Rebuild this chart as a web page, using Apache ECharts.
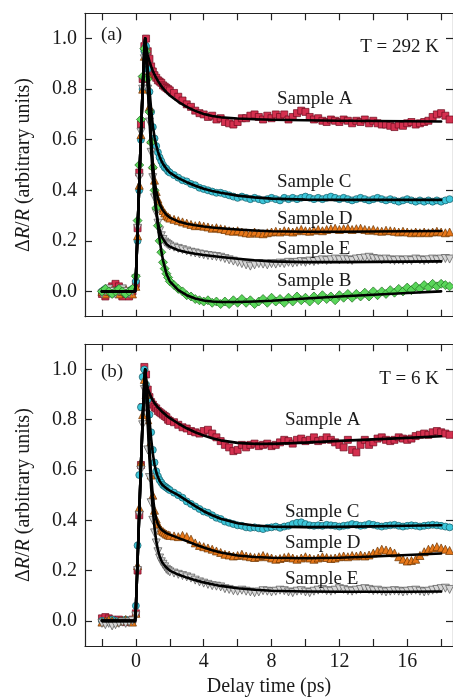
<!DOCTYPE html>
<html>
<head>
<meta charset="utf-8">
<script src="https://cdn.jsdelivr.net/npm/echarts@6.0.0/dist/echarts.min.js"></script>
<style>
html,body{margin:0;padding:0;background:#fff;}
#chart{width:453px;height:698px;}
</style>
</head>
<body>
<div id="chart"></div>
<script>
// ---------- DATA ----------
const dataTimes = [-2.0,-1.8,-1.6,-1.4,-1.2,-1.0,-0.8,-0.6,-0.4,-0.2,
  0.0,0.1,0.2,0.3,0.4,0.5,0.6,0.7,0.8,0.9,1.0,1.1,1.2,1.3,1.4,1.5,1.6,1.7,1.8,1.9,2.0,
  2.25,2.5,2.75,3.0,3.25,3.5,3.75,4.0,4.25,4.5,4.75,
  5.0,5.25,5.5,5.75,6.0,6.25,6.5,6.75,7.0,7.25,7.5,
  7.75,8.0,8.25,8.5,8.75,9.0,9.25,9.5,9.75,10.0,10.25,
  10.5,10.75,11.0,11.25,11.5,11.75,12.0,12.25,12.5,12.75,13.0,
  13.25,13.5,13.75,14.0,14.25,14.5,14.75,15.0,15.25,15.5,15.75,
  16.0,16.25,16.5,16.75,17.0,17.25,17.5,17.75,18.0,18.25,18.5];

// Panel (a), T = 292 K
const sampleA292 = [-0.01,-0.02,0.0,0.02,0.03,0.02,-0.02,-0.01,-0.02,0.0,
  0.03,0.25,0.47,0.66,0.84,0.97,1.0,0.95,0.92,0.89,0.87,0.855,0.845,0.835,0.83,0.825,0.815,0.81,0.805,0.8,0.795,
  0.785,0.77,0.755,0.74,0.73,0.715,0.705,0.7,0.69,0.695,0.68,
  0.685,0.67,0.665,0.66,0.67,0.685,0.685,0.695,0.7,0.69,0.68,
  0.695,0.685,0.7,0.69,0.7,0.68,0.69,0.705,0.715,0.71,0.69,
  0.68,0.685,0.675,0.67,0.68,0.675,0.67,0.68,0.675,0.665,0.675,
  0.67,0.68,0.665,0.675,0.665,0.66,0.66,0.655,0.65,0.66,0.655,
  0.665,0.67,0.66,0.665,0.67,0.675,0.69,0.7,0.705,0.695,0.68];
const sampleC292 = [0.0,0.01,0.0,-0.01,0.0,0.01,0.0,-0.01,0.0,0.01,
  0.04,0.2,0.4,0.6,0.8,0.95,0.97,0.88,0.79,0.71,0.65,0.605,0.575,0.55,0.53,0.515,0.5,0.49,0.485,0.475,0.47,
  0.46,0.45,0.44,0.435,0.425,0.42,0.41,0.405,0.4,0.395,0.39,
  0.39,0.385,0.38,0.375,0.37,0.375,0.37,0.365,0.37,0.365,0.36,
  0.365,0.37,0.365,0.36,0.37,0.365,0.37,0.365,0.37,0.375,0.37,
  0.365,0.37,0.365,0.37,0.375,0.37,0.365,0.37,0.365,0.36,0.365,
  0.37,0.365,0.36,0.365,0.37,0.365,0.36,0.365,0.36,0.355,0.36,
  0.365,0.36,0.355,0.36,0.355,0.36,0.355,0.36,0.355,0.36,0.365];
const sampleD292 = [0.0,-0.01,0.0,0.01,0.0,-0.01,0.0,0.01,0.0,-0.01,
  0.02,0.22,0.42,0.62,0.8,0.93,0.96,0.86,0.73,0.6,0.5,0.44,0.395,0.365,0.345,0.33,0.32,0.31,0.3,0.295,0.29,
  0.285,0.28,0.275,0.27,0.265,0.26,0.262,0.258,0.255,0.25,0.252,
  0.248,0.245,0.24,0.238,0.24,0.235,0.232,0.23,0.235,0.23,0.228,
  0.232,0.235,0.238,0.235,0.24,0.238,0.235,0.24,0.245,0.24,0.238,
  0.242,0.245,0.24,0.245,0.248,0.25,0.245,0.248,0.25,0.245,0.248,
  0.25,0.245,0.242,0.245,0.24,0.238,0.242,0.24,0.238,0.235,0.238,
  0.235,0.232,0.235,0.232,0.235,0.232,0.235,0.238,0.235,0.232,0.235];
const sampleE292 = [-0.01,0.0,0.01,0.0,-0.01,0.0,0.01,0.0,-0.01,0.0,
  0.05,0.25,0.45,0.63,0.8,0.92,0.93,0.8,0.67,0.55,0.45,0.37,0.31,0.27,0.24,0.22,0.205,0.195,0.19,0.185,0.18,
  0.175,0.17,0.165,0.16,0.155,0.152,0.148,0.145,0.142,0.14,0.138,
  0.135,0.13,0.125,0.12,0.115,0.11,0.105,0.1,0.105,0.11,0.108,
  0.105,0.11,0.108,0.112,0.11,0.115,0.112,0.115,0.118,0.115,0.12,
  0.118,0.122,0.125,0.122,0.125,0.128,0.125,0.128,0.125,0.122,0.128,
  0.13,0.132,0.135,0.13,0.128,0.125,0.128,0.125,0.122,0.125,0.122,
  0.125,0.122,0.128,0.125,0.122,0.125,0.128,0.125,0.128,0.13,0.128];
const sampleB292 = [0.0,0.01,0.0,-0.01,0.0,0.01,0.0,-0.01,0.0,0.01,
  0.06,0.28,0.5,0.68,0.85,0.96,0.95,0.84,0.71,0.59,0.49,0.4,0.33,0.26,0.2,0.155,0.115,0.09,0.07,0.055,0.04,
  0.025,0.01,0.0,-0.015,-0.02,-0.03,-0.035,-0.04,-0.035,-0.045,-0.04,
  -0.05,-0.04,-0.05,-0.035,-0.045,-0.03,-0.045,-0.035,-0.05,-0.04,-0.03,
  -0.045,-0.025,-0.04,-0.03,-0.045,-0.025,-0.04,-0.02,-0.035,-0.025,-0.04,
  -0.02,-0.035,-0.015,-0.03,-0.02,-0.035,-0.015,-0.025,-0.01,-0.025,-0.01,
  -0.02,-0.005,-0.02,0.0,-0.015,0.0,-0.01,0.005,-0.005,0.01,0.0,
  0.015,0.005,0.02,0.01,0.025,0.015,0.03,0.02,0.03,0.025,0.02];

// Panel (b), T = 6 K
const sampleA6 = [0.01,0.015,0.01,0.005,0.0,0.005,0.0,-0.005,0.0,0.005,
  0.03,0.2,0.42,0.62,0.85,1.01,0.98,0.92,0.89,0.87,0.86,0.85,0.845,0.835,0.83,0.825,0.82,0.815,0.81,0.8,0.795,
  0.79,0.78,0.77,0.765,0.755,0.75,0.745,0.755,0.76,0.745,0.73,
  0.715,0.7,0.69,0.675,0.68,0.7,0.69,0.7,0.705,0.695,0.7,
  0.705,0.695,0.7,0.71,0.72,0.715,0.705,0.72,0.725,0.715,0.72,
  0.73,0.715,0.72,0.73,0.72,0.71,0.7,0.69,0.72,0.68,0.67,
  0.7,0.72,0.7,0.71,0.725,0.73,0.72,0.715,0.72,0.73,0.725,
  0.72,0.725,0.735,0.74,0.745,0.74,0.75,0.755,0.75,0.745,0.74];
const sampleC6 = [0.0,-0.005,0.0,0.005,0.0,-0.005,0.0,0.005,0.0,0.0,
  0.06,0.3,0.58,0.85,0.97,1.0,0.94,0.88,0.82,0.75,0.68,0.63,0.595,0.575,0.56,0.55,0.54,0.535,0.53,0.525,0.52,
  0.51,0.5,0.49,0.475,0.465,0.455,0.445,0.435,0.43,0.42,0.41,
  0.405,0.395,0.39,0.385,0.38,0.378,0.372,0.37,0.372,0.368,0.365,
  0.37,0.372,0.375,0.37,0.375,0.378,0.385,0.39,0.392,0.385,0.38,
  0.378,0.38,0.378,0.382,0.38,0.378,0.375,0.378,0.38,0.385,0.382,
  0.378,0.38,0.385,0.382,0.378,0.375,0.378,0.38,0.382,0.378,0.375,
  0.378,0.38,0.378,0.375,0.378,0.38,0.382,0.38,0.378,0.375,0.372];
const sampleD6 = [-0.005,0.0,0.005,0.0,-0.005,0.0,0.0,0.005,0.0,-0.005,
  0.03,0.22,0.45,0.63,0.82,0.96,0.9,0.8,0.7,0.58,0.5,0.44,0.405,0.385,0.37,0.36,0.355,0.35,0.345,0.342,0.34,
  0.338,0.335,0.34,0.335,0.325,0.31,0.3,0.295,0.29,0.285,0.278,
  0.272,0.265,0.262,0.258,0.26,0.265,0.258,0.255,0.252,0.255,0.26,
  0.255,0.25,0.245,0.248,0.252,0.255,0.25,0.245,0.25,0.255,0.25,
  0.245,0.25,0.255,0.252,0.248,0.25,0.255,0.258,0.255,0.26,0.258,
  0.262,0.258,0.262,0.27,0.278,0.285,0.282,0.278,0.27,0.255,0.245,
  0.238,0.24,0.245,0.26,0.275,0.285,0.29,0.295,0.29,0.285,0.28];
const sampleE6 = [-0.01,-0.015,-0.01,-0.02,-0.015,-0.01,-0.005,-0.01,-0.005,0.0,
  0.02,0.2,0.42,0.6,0.78,0.92,0.85,0.68,0.57,0.47,0.4,0.35,0.31,0.275,0.25,0.235,0.225,0.215,0.205,0.2,0.195,
  0.19,0.185,0.18,0.175,0.17,0.162,0.155,0.15,0.145,0.14,0.138,
  0.135,0.128,0.125,0.12,0.118,0.122,0.118,0.115,0.112,0.115,0.12,
  0.118,0.115,0.118,0.122,0.12,0.115,0.112,0.118,0.12,0.115,0.112,
  0.118,0.122,0.125,0.12,0.118,0.122,0.128,0.125,0.12,0.118,0.122,
  0.125,0.128,0.125,0.12,0.122,0.118,0.115,0.118,0.12,0.118,0.115,
  0.118,0.12,0.122,0.118,0.115,0.118,0.122,0.125,0.128,0.13,0.125];

// Fit curves
const fitTimes = [-2.0,-1.0,-0.05,0.0,0.1,0.2,0.3,0.4,0.5,0.55,
  0.6,0.7,0.8,0.9,1.0,1.1,1.2,1.3,1.4,1.5,1.6,1.8,2.0,
  2.5,3.0,3.5,4.0,4.5,5.0,6.0,7.0,8.0,10.0,12.0,14.0,16.0,18.0];
const fitA292 = [0,0,0,0.05,0.24,0.43,0.62,0.8,0.95,1.0,
  0.97,0.935,0.91,0.89,0.872,0.857,0.845,0.833,0.822,0.812,0.803,0.788,0.775,
  0.75,0.73,0.714,0.702,0.694,0.689,0.684,0.681,0.679,0.677,0.675,0.674,0.673,0.672];
const fitC292 = [0,0,0,0.05,0.24,0.43,0.62,0.8,0.95,1.0,
  0.96,0.88,0.8,0.72,0.655,0.61,0.578,0.553,0.533,0.517,0.504,0.485,0.47,
  0.448,0.432,0.418,0.406,0.397,0.39,0.379,0.372,0.367,0.363,0.362,0.362,0.362,0.362];
const fitD292 = [0,0,0,0.05,0.24,0.43,0.62,0.8,0.95,1.0,
  0.95,0.84,0.72,0.6,0.505,0.44,0.398,0.368,0.347,0.332,0.32,0.303,0.292,
  0.277,0.268,0.262,0.257,0.253,0.25,0.245,0.241,0.238,0.236,0.236,0.237,0.238,0.239];
const fitE292 = [0,0,0,0.05,0.24,0.43,0.62,0.8,0.95,1.0,
  0.94,0.81,0.68,0.56,0.455,0.375,0.315,0.272,0.243,0.222,0.207,0.188,0.177,
  0.163,0.155,0.149,0.144,0.14,0.136,0.129,0.123,0.119,0.116,0.116,0.117,0.118,0.119];
const fitB292 = [0,0,0,0.05,0.24,0.43,0.62,0.8,0.95,1.0,
  0.95,0.84,0.715,0.595,0.49,0.4,0.325,0.26,0.205,0.16,0.123,0.07,0.04,
  0.005,-0.015,-0.028,-0.036,-0.04,-0.042,-0.042,-0.04,-0.037,-0.028,-0.02,-0.013,-0.006,0.0];
const fitA6 = [0,0,0,0.05,0.24,0.43,0.62,0.8,0.95,1.0,
  0.96,0.925,0.905,0.89,0.877,0.866,0.857,0.849,0.842,0.835,0.829,0.817,0.806,
  0.785,0.766,0.75,0.737,0.726,0.718,0.708,0.704,0.704,0.709,0.716,0.722,0.728,0.734];
const fitC6 = [0,0,0,0.05,0.24,0.43,0.62,0.8,0.95,1.0,
  0.96,0.88,0.8,0.725,0.665,0.622,0.592,0.572,0.557,0.546,0.538,0.527,0.518,
  0.5,0.478,0.456,0.436,0.42,0.406,0.388,0.379,0.375,0.373,0.374,0.376,0.378,0.38];
const fitD6 = [0,0,0,0.05,0.24,0.43,0.62,0.8,0.95,1.0,
  0.93,0.81,0.69,0.58,0.495,0.44,0.405,0.385,0.372,0.363,0.357,0.349,0.343,
  0.33,0.317,0.304,0.292,0.281,0.272,0.26,0.254,0.251,0.249,0.251,0.256,0.262,0.268];
const fitE6 = [0,0,0,0.05,0.24,0.43,0.62,0.8,0.95,1.0,
  0.92,0.78,0.645,0.53,0.44,0.37,0.318,0.282,0.257,0.24,0.228,0.212,0.2,
  0.184,0.172,0.162,0.153,0.146,0.139,0.13,0.124,0.12,0.117,0.116,0.116,0.116,0.117];

const xTickValues = [-2,0,2,4,6,8,10,12,14,16,18];
const xLabelValues = [0,4,8,12,16];
const yTickValues = [0,0.2,0.4,0.6,0.8,1.0];

// ---------- STYLE ----------
const SERIF = '"Liberation Serif","Times New Roman",serif';
const INK = '#1a1a1a';
const styles = {
  A: {symbol:'rect', size:7, color:'#d4304f', border:'#6e0c1e'},
  C: {symbol:'circle', size:7, color:'#3cc6da', border:'#155a66'},
  D: {symbol:'triangle', size:8, color:'#e8781a', border:'#6a3300'},
  E: {symbol:'triangle', size:8, rotate:180, color:'#d6d6d6', border:'#555555'},
  B: {symbol:'diamond', size:9, color:'#5ad65a', border:'#1e6a1e'}
};

function pairs(ts, ys){ return ts.map((t,i)=>[t, ys[i]]); }
function scat(key, ys, xi, yi){
  const s = styles[key];
  return {type:'scatter', xAxisIndex:xi, yAxisIndex:yi, data:pairs(dataTimes, ys),
    symbol:s.symbol, symbolSize:s.size, symbolRotate:s.rotate||0, z:2, silent:true,
    itemStyle:{color:s.color, borderColor:s.border, borderWidth:0.7, opacity:1}};
}
function fit(ys, xi, yi){
  return {type:'line', xAxisIndex:xi, yAxisIndex:yi, data:pairs(fitTimes, ys),
    showSymbol:false, symbol:'none', z:5, silent:true,
    lineStyle:{color:'#000', width:2.6, cap:'round', join:'round'}};
}

const axisLineStyle = {show:true, onZero:false, lineStyle:{color:'#222', width:1.2}};
const tickStyle = {inside:true, length:7, lineStyle:{color:'#222', width:1.2}};

function xBottom(grid, withLabels){
  return {type:'value', gridIndex:grid, position:'bottom', min:-3, max:18.7,
    axisLine:axisLineStyle, splitLine:{show:false},
    axisTick:Object.assign({customValues:xTickValues}, tickStyle),
    axisLabel:{show:withLabels, customValues:xLabelValues, margin:6,
      fontFamily:SERIF, fontSize:20, color:INK},
    name: withLabels ? 'Delay time (ps)' : '', nameLocation:'middle', nameGap:31,
    nameTextStyle:{fontFamily:SERIF, fontSize:20, color:INK}};
}
function xTop(grid){
  return {type:'value', gridIndex:grid, position:'top', min:-3, max:18.7,
    axisLine:axisLineStyle, splitLine:{show:false},
    axisTick:Object.assign({customValues:xTickValues}, tickStyle),
    axisLabel:{show:false}};
}
function yLeft(grid){
  return {type:'value', gridIndex:grid, position:'left', min:-0.1, max:1.1,
    axisLine:axisLineStyle, splitLine:{show:false},
    axisTick:Object.assign({customValues:yTickValues}, tickStyle),
    axisLabel:{customValues:yTickValues, margin:8, fontFamily:SERIF, fontSize:20, color:INK,
      formatter:v=>Number(v).toFixed(1)},
    name:'{n|Δ}{i|R}{n|/}{i|R}{n| (arbitrary units)}', nameLocation:'middle', nameGap:51,
    nameTextStyle:{color:INK, rich:{
      n:{fontFamily:SERIF, fontSize:20, color:INK},
      i:{fontFamily:SERIF, fontSize:20, fontStyle:'italic', color:INK}}}};
}
function yRight(grid){
  return {type:'value', gridIndex:grid, position:'right', min:-0.1, max:1.1,
    axisLine:axisLineStyle, splitLine:{show:false},
    axisTick:Object.assign({customValues:yTickValues}, tickStyle),
    axisLabel:{show:false}};
}

function txt(text, x, y, align){
  return {type:'text', x:x, y:y, z:100, silent:true,
    style:{text:text, fontFamily:SERIF, fontSize:19, fill:INK,
      align:align||'left', verticalAlign:'middle'}};
}

const chart = echarts.init(document.getElementById('chart'), null, {renderer:'canvas'});
chart.setOption({
  animation:false,
  backgroundColor:'#ffffff',
  grid:[
    {left:85, top:13.3, width:371, height:303.4},
    {left:85, top:344.3, width:371, height:304}
  ],
  xAxis:[xBottom(0,false), xTop(0), xBottom(1,true), xTop(1)],
  yAxis:[yLeft(0), yRight(0), yLeft(1), yRight(1)],
  series:[
    scat('A', sampleA292, 0, 0), scat('C', sampleC292, 0, 0), scat('D', sampleD292, 0, 0),
    scat('E', sampleE292, 0, 0), scat('B', sampleB292, 0, 0),
    fit(fitA292, 0, 0), fit(fitC292, 0, 0), fit(fitD292, 0, 0), fit(fitE292, 0, 0), fit(fitB292, 0, 0),
    scat('A', sampleA6, 2, 2), scat('C', sampleC6, 2, 2), scat('D', sampleD6, 2, 2), scat('E', sampleE6, 2, 2),
    fit(fitA6, 2, 2), fit(fitC6, 2, 2), fit(fitD6, 2, 2), fit(fitE6, 2, 2)
  ],
  graphic:[
    txt('(a)', 101, 35), txt('T = 292 K', 439, 47, 'right'),
    txt('Sample A', 277, 99), txt('Sample C', 277, 182), txt('Sample D', 277, 219),
    txt('Sample E', 277, 249), txt('Sample B', 277, 281),
    txt('(b)', 101, 372), txt('T = 6 K', 439, 379, 'right'),
    txt('Sample A', 285, 420), txt('Sample C', 285, 512), txt('Sample D', 285, 543),
    txt('Sample E', 285, 579)
  ]
});
</script>
</body>
</html>
